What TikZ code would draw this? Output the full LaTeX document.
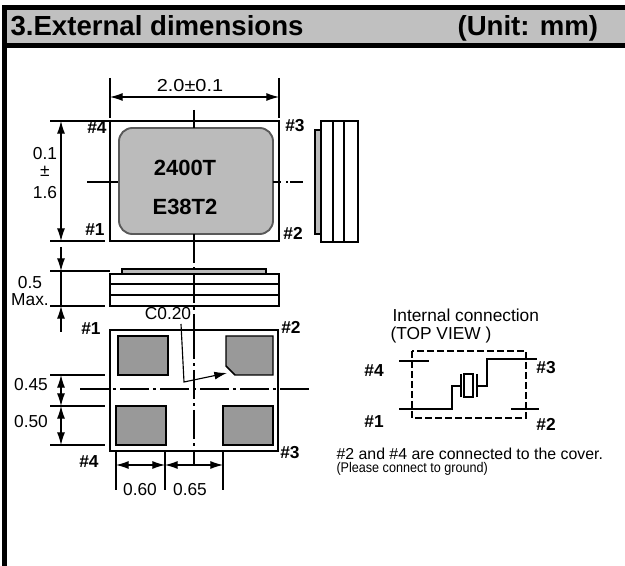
\documentclass[tikz,border=0pt]{standalone}
\usepackage{fontspec}
\setmainfont{Liberation Sans}
\usetikzlibrary{arrows.meta}

\definecolor{headgray}{HTML}{C0C0C0}
\definecolor{capgray}{HTML}{BBBBBB}
\definecolor{padgray}{HTML}{999999}

\tikzset{
  dimtext/.style={font=\fontsize{13}{15}\selectfont, inner sep=0pt},
  pintext/.style={font=\fontsize{13}{15}\selectfont\bfseries, inner sep=0pt},
  marktext/.style={font=\fontsize{16.5}{19}\selectfont\bfseries, inner sep=0pt},
  headtext/.style={font=\fontsize{20.7}{24}\selectfont\bfseries, inner sep=0pt},
  centerline/.style={dash pattern=on 22pt off 3pt on 2pt off 3pt},
  padbox/.style={fill=padgray, draw=black, line width=1.1pt}
}

\begin{document}
\begin{tikzpicture}[x=0.75pt, y=-0.75pt, line width=0.85pt, >={Latex[length=9.5pt,width=6pt]}]
\useasboundingbox (0,0) rectangle (625,566);

% frame and heading
\fill[black] (2,5) rectangle (625,48);
\fill[black] (2,48) rectangle (7,566);
\fill[headgray] (7,10) rectangle (625,43);
\node[headtext, anchor=base west] (title) at (10,36) {3.External dimensions};
\node[headtext, anchor=base west] (unit) at (457,36) {(Unit: mm)};

% top view
\draw (110,121) rectangle (279,241);
\draw[fill=capgray, draw=black!65, line width=1.4pt, rounded corners=10pt] (119,128) rectangle (273,234);
\node[marktext] (markone) at (185,168) {2400T};
\node[marktext] (marktwo) at (185,207) {E38T2};
\node[pintext] (topfour) at (97,128) {\#4};
\node[pintext] (topthree) at (295,126) {\#3};
\node[pintext] (topone) at (95,230) {\#1};
\node[pintext] (toptwo) at (293,233) {\#2};
\draw (194,110)--(194,128);
\draw (87,182)--(118,182);
\draw (273,182)--(281,182);
\draw (286,182)--(288,182);
\draw (290,182)--(303,182);

% width and height of the top view
\draw (110,78)--(110,118);
\draw (279,78)--(279,118);
\draw[<->] (110,97)--(279,97);
\node[dimtext, xscale=1.15] (width) at (190,86) {2.0±0.1};
\draw (50,121)--(110,121);
\draw (50,241)--(105,241);
\draw[<->] (61,121)--(61,241);
\node[dimtext] (hone) at (45,154) {0.1};
\node[dimtext] (htwo) at (45,171) {±};
\node[dimtext] (hthree) at (45,193) {1.6};

% side view on the right
\draw[fill=capgray] (315,130) rectangle (321,234);
\draw[fill=white] (321,121) rectangle (358,242);
\draw (333,121)--(333,242);
\draw (344,121)--(344,242);

% side view below
\draw[fill=capgray] (122,269) rectangle (266,274);
\draw (110,274) rectangle (279,306);
\draw (110,284)--(279,284);
\draw (110,295)--(279,295);
\draw[centerline] (194,234)--(194,330);
\draw (50,271)--(110,271);
\draw (50,306)--(105,306);
\draw[->] (61,247)--(61,271);
\draw[->] (61,332)--(61,306);
\draw (61,271)--(61,306);
\node[dimtext] (maxone) at (30,283) {0.5};
\node[dimtext] (maxtwo) at (30,300) {Max.};

% bottom view
\draw[line width=1.1pt] (110,330) rectangle (278,451);
\draw[padbox] (118,336) rectangle (168,375);
\draw[padbox] (226,336)--(273,336)--(273,375)--(235,375)--(226,366)--cycle;
\draw[padbox] (116,406) rectangle (166,445);
\draw[padbox] (223,406) rectangle (273,445);
\draw[centerline] (80,389)--(309,389);
\draw[centerline] (194,330)--(194,451);
\draw (194,451)--(194,465);
\node[pintext] (botone) at (91,329) {\#1};
\node[pintext] (bottwo) at (291,327) {\#2};
\node[pintext] (botthree) at (290,453) {\#3};
\node[pintext] (botfour) at (89,462) {\#4};
\node[dimtext] (chamfer) at (168,314) {C0.20};
\draw[->] (181,324)--(184,382)--(227,373);

% pad dimensions
\draw (50,375)--(105,375);
\draw (50,406)--(105,406);
\draw (50,445)--(105,445);
\draw[<->] (61,375)--(61,406);
\draw[<->] (61,406)--(61,445);
\node[dimtext] (gap) at (31,385) {0.45};
\node[dimtext] (pad) at (31,422) {0.50};
\draw (116,451)--(116,490);
\draw (165,451)--(165,490);
\draw (223,451)--(223,490);
\draw[<->] (116,465)--(165,465);
\draw[<->] (165,465)--(223,465);
\node[dimtext] (padw) at (140,490) {0.60};
\node[dimtext] (padg) at (190,490) {0.65};

% internal connection
\node[dimtext, anchor=west] (conn) at (392,315) {Internal connection};
\node[dimtext, anchor=west] (view) at (390,335) {(TOP VIEW )};
\draw[line width=1.9pt, dash pattern=on 5pt off 2.5pt] (412,351) rectangle (526,418);
\draw (399,361)--(429,361);
\draw (399,409)--(452,409)--(452,386)--(461,386);
\draw (461,374)--(461,397);
\draw (464,374) rectangle (473,397);
\draw (477,374)--(477,397);
\draw (477,386)--(487,386)--(487,359)--(537,359);
\draw (511,409)--(539,409);
\node[pintext] (intfour) at (374,371) {\#4};
\node[pintext] (intthree) at (546,368) {\#3};
\node[pintext] (intone) at (374,422) {\#1};
\node[pintext] (inttwo) at (546,424) {\#2};
\node[inner sep=0pt, anchor=west, font=\fontsize{11.9}{14}\selectfont] (noteone) at (336,454) {\#2 and \#4 are connected to the cover.};
\node[inner sep=0pt, anchor=west, xscale=0.9, font=\fontsize{10.5}{12}\selectfont] (notetwo) at (336,469) {(Please connect to ground)};
\end{tikzpicture}
\end{document}
